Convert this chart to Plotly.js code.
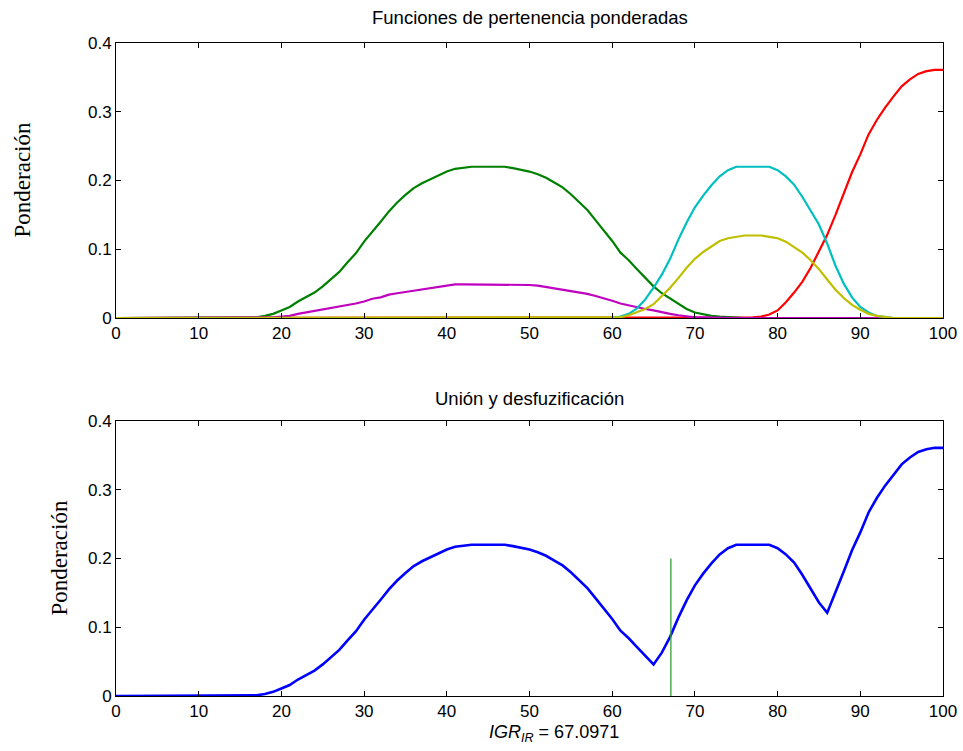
<!DOCTYPE html>
<html>
<head>
<meta charset="utf-8">
<script src="https://cdn.plot.ly/plotly-3.0.1.min.js"></script>
<style>html,body{margin:0;padding:0;background:#fff;}#chart{width:963px;height:751px;}</style>
</head>
<body>
<div id="chart"></div>
<script>
// x grid (IGR, 0..100)
const xs = [0,1,2,3,4,5,6,7,8,9,10,11,12,13,14,15,16,17,18,19,20,21,22,23,24,25,26,27,28,29,30,31,32,33,34,35,36,37,38,39,40,41,42,43,44,45,46,47,48,49,50,51,52,53,54,55,56,57,58,59,60,61,62,63,64,65,66,67,68,69,70,71,72,73,74,75,76,77,78,79,80,81,82,83,84,85,86,87,88,89,90,91,92,93,94,95,96,97,98,99,100];

// weighted membership functions (top panel)
const greenVals = [0,0,0,0,0,0,0,0,0,0,0,0,0,0,0,0,0,0.001,0.003,0.006,0.011,0.016,0.024,0.030,0.037,0.046,0.056,0.067,0.081,0.094,0.111,0.125,0.140,0.155,0.168,0.179,0.189,0.196,0.202,0.208,0.213,0.217,0.219,0.220,0.220,0.220,0.220,0.220,0.218,0.216,0.213,0.209,0.204,0.197,0.190,0.180,0.169,0.157,0.142,0.127,0.112,0.095,0.084,0.071,0.058,0.046,0.036,0.028,0.021,0.013,0.008,0.005,0.003,0.002,0.001,0,0,0,0,0,0,0,0,0,0,0,0,0,0,0,0,0,0,0,0,0,0,0,0,0,0];
const magentaVals = [0,0,0,0,0,0,0,0,0,0,0,0,0,0,0,0,0,0.0005,0.001,0.001,0.002,0.003,0.006,0.008,0.010,0.012,0.014,0.016,0.019,0.021,0.024,0.028,0.030,0.034,0.036,0.038,0.040,0.042,0.044,0.046,0.047,0.049,0.049,0.049,0.049,0.049,0.049,0.049,0.049,0.049,0.048,0.047,0.045,0.043,0.041,0.040,0.038,0.035,0.032,0.029,0.025,0.021,0.018,0.016,0.013,0.011,0.008,0.006,0.004,0.002,0.001,0.001,0.0005,0.0002,0,0,0,0,0,0,0,0,0,0,0,0,0,0,0,0,0,0,0,0,0,0,0,0,0,0,0];
const cyanVals = [0,0,0,0,0,0,0,0,0,0,0,0,0,0,0,0,0,0,0,0,0,0,0,0,0,0,0,0,0,0,0,0,0,0,0,0,0,0,0,0,0,0,0,0,0,0,0,0,0,0,0,0,0,0,0,0,0,0,0,0,0,0.002,0.006,0.014,0.027,0.044,0.063,0.086,0.114,0.139,0.161,0.178,0.193,0.206,0.215,0.220,0.220,0.220,0.220,0.220,0.215,0.206,0.194,0.176,0.156,0.136,0.108,0.076,0.050,0.030,0.016,0.008,0.003,0.001,0,0,0,0,0,0,0];
const yellowVals = [0,0,0,0,0,0,0,0,0,0,0,0,0,0,0,0,0,0,0,0,0,0,0,0,0,0,0,0,0,0,0,0,0,0,0,0,0,0,0,0,0,0,0,0,0,0,0,0,0,0,0,0,0,0,0,0,0,0,0,0,0,0.001,0.004,0.008,0.013,0.020,0.032,0.044,0.058,0.073,0.086,0.096,0.104,0.112,0.116,0.118,0.120,0.120,0.120,0.118,0.116,0.111,0.103,0.095,0.084,0.071,0.056,0.041,0.029,0.019,0.012,0.006,0.003,0.001,0,0,0,0,0,0,0];
const redVals = [0,0,0,0,0,0,0,0,0,0,0,0,0,0,0,0,0,0,0,0,0,0,0,0,0,0,0,0,0,0,0,0,0,0,0,0,0,0,0,0,0,0,0,0,0,0,0,0,0,0,0,0,0,0,0,0,0,0,0,0,0,0,0,0,0,0,0,0,0,0,0,0,0,0,0,0,0.0003,0.001,0.002,0.005,0.011,0.023,0.037,0.053,0.073,0.097,0.121,0.150,0.181,0.212,0.238,0.267,0.288,0.306,0.322,0.337,0.347,0.355,0.359,0.361,0.361];

// union (bottom panel)
const unionVals = [0,0,0,0,0,0,0,0,0,0,0,0,0,0,0,0,0,0.001,0.003,0.006,0.011,0.016,0.024,0.030,0.037,0.046,0.056,0.067,0.081,0.094,0.111,0.125,0.140,0.155,0.168,0.179,0.189,0.196,0.202,0.208,0.213,0.217,0.219,0.220,0.220,0.220,0.220,0.220,0.218,0.216,0.213,0.209,0.204,0.197,0.190,0.180,0.169,0.157,0.142,0.127,0.112,0.095,0.084,0.071,0.058,0.046,0.063,0.086,0.114,0.139,0.161,0.178,0.193,0.206,0.215,0.220,0.220,0.220,0.220,0.220,0.215,0.206,0.194,0.176,0.156,0.136,0.121,0.150,0.181,0.212,0.238,0.267,0.288,0.306,0.322,0.337,0.347,0.355,0.359,0.361,0.361];

// defuzzified result
const igrValue = 67.0971;
const markerHeight = [0, 0.2];

const xTicks = [0,10,20,30,40,50,60,70,80,90,100];
const yTicks = [0,0.1,0.2,0.3,0.4];
const yTickText = ['0','0.1','0.2','0.3','0.4'];

const sans = 'Liberation Sans, Arial, sans-serif';
const serif = 'Liberation Serif, Times New Roman, serif';

function line(y, color, xa, ya, w) {
  return {x: xs, y: y, type: 'scatter', mode: 'lines', xaxis: xa, yaxis: ya,
          line: {color: color, width: w || 2.2}, hoverinfo: 'skip'};
}

const traces = [
  line(redVals, '#FF0000', 'x', 'y'),
  line(greenVals, '#008000', 'x', 'y'),
  line(magentaVals, '#BF00BF', 'x', 'y'),
  line(cyanVals, '#00BFBF', 'x', 'y'),
  line(yellowVals, '#BFBF00', 'x', 'y'),
  line(unionVals, '#0000FF', 'x2', 'y2', 2.6),
  {x: [igrValue, igrValue], y: markerHeight, type: 'scatter', mode: 'lines', xaxis: 'x2', yaxis: 'y2',
   line: {color: '#33A033', width: 1.3}, hoverinfo: 'skip'}
];

function xax(anchor) {
  return {anchor: anchor, range: [0, 100], tickvals: xTicks, ticktext: xTicks.map(String),
          ticks: 'inside', ticklen: 5, tickcolor: '#000', showline: true, linecolor: '#000', linewidth: 1,
          mirror: 'allticks', showgrid: false, zeroline: false,
          tickfont: {family: sans, size: 17, color: '#000'}, fixedrange: true};
}
function yax(anchor, domain) {
  return {anchor: anchor, domain: domain, range: [0, 0.4], tickvals: yTicks, ticktext: yTickText,
          ticks: 'inside', ticklen: 5, tickcolor: '#000', showline: true, linecolor: '#000', linewidth: 1,
          mirror: 'allticks', showgrid: false, zeroline: false,
          tickfont: {family: sans, size: 17, color: '#000'}, fixedrange: true};
}

const layout = {
  width: 963, height: 751,
  margin: {l: 116, r: 20, t: 43, b: 55},
  paper_bgcolor: '#fff', plot_bgcolor: '#fff',
  showlegend: false,
  xaxis: xax('y'),
  yaxis: yax('x', [0.5789, 1]),
  xaxis2: xax('y2'),
  yaxis2: yax('x2', [0, 0.4211]),
  annotations: [
    {text: 'Funciones de pertenencia ponderadas', xref: 'paper', yref: 'paper', x: 0.5, y: 1,
     xanchor: 'center', yanchor: 'middle', yshift: 26, showarrow: false,
     font: {family: sans, size: 18.5, color: '#000'}},
    {text: 'Unión y desfuzificación', xref: 'paper', yref: 'paper', x: 0.5, y: 0.4211,
     xanchor: 'center', yanchor: 'middle', yshift: 23, showarrow: false,
     font: {family: sans, size: 18.5, color: '#000'}},
    {text: 'Ponderación', xref: 'paper', yref: 'paper', x: 0, y: 0.7895, xshift: -94,
     xanchor: 'center', yanchor: 'middle',
     textangle: -90, showarrow: false, font: {family: serif, size: 23, color: '#000'}},
    {text: 'Ponderación', xref: 'paper', yref: 'paper', x: 0, y: 0.2105, xshift: -56,
     xanchor: 'center', yanchor: 'middle',
     textangle: -90, showarrow: false, font: {family: serif, size: 23, color: '#000'}},
    {text: '<i>IGR</i><sub><i>IR</i></sub> = 67.0971', xref: 'paper', yref: 'paper', x: 0.5, y: 0,
     xanchor: 'center', yanchor: 'middle', yshift: -37, xshift: 24, showarrow: false,
     font: {family: sans, size: 18, color: '#000'}}
  ]
};

Plotly.newPlot('chart', traces, layout, {displayModeBar: false, staticPlot: true});
</script>
</body>
</html>
